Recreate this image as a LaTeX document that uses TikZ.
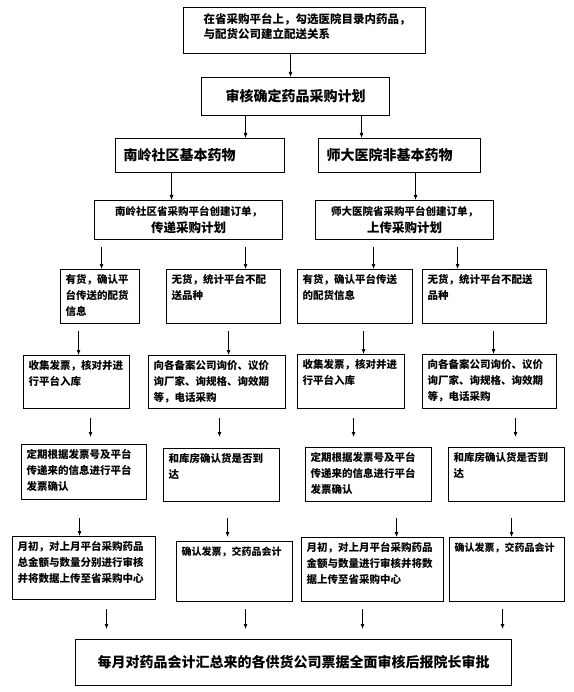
\documentclass[tikz,border=0pt]{standalone}
\usepackage{fontspec}
\setmainfont{Noto Sans CJK SC}
\usepackage{tikz}
\usetikzlibrary{arrows.meta}
\newcommand{\cbox}[3]{\parbox[t][\dimexpr#2pt-10pt\relax][t]{\dimexpr#1pt-10pt\relax}{#3}}

\begin{document}
\begin{tikzpicture}[x=1pt, y=-1pt,
		cell/.style={draw, line width=1.1pt, anchor=north west, inner sep=5pt, font=\fontsize{10.5}{16}\bfseries\selectfont},
		title/.style={draw, line width=1.1pt, anchor=north west, inner sep=0pt, align=center, font=\fontsize{14}{16}\bfseries\selectfont},
		order/.style={draw, line width=1.1pt, anchor=north west, inner sep=0pt, align=center, font=\fontsize{10.5}{17}\bfseries\selectfont},
		arr/.style={-{Latex[length=5pt,width=4pt]}, line width=0.8pt}
		]
		\useasboundingbox (0,0) rectangle (573,692);
		% top of the chart
		\node[draw, line width=1.1pt, anchor=north west, inner xsep=20pt, inner ysep=6pt, font=\fontsize{11.5}{15}\bfseries\selectfont] (top) at (183,7) {\parbox[t][34pt][t]{202pt}{在省采购平台上，勾选医院目录内药品，\\与配货公司建立配送关系}};
		\node[title, minimum width=188pt, minimum height=38pt] (plan) at (201,77) {审核确定药品采购计划};
		\node[title, align=left, inner xsep=8pt, text width=153pt, minimum height=34pt] (nl) at (115,138) {南岭社区基本药物};
		\node[title, align=left, inner xsep=8pt, text width=146pt, minimum height=34pt] (sd) at (318,138) {师大医院非基本药物};
		\node[order, minimum width=188pt, minimum height=39pt] (nlo) at (94,200) {南岭社区省采购平台创建订单，\\{\fontsize{12.5}{17}\selectfont 传递采购计划}};
		\node[order, minimum width=178pt, minimum height=39pt] (sdo) at (315,200) {师大医院省采购平台创建订单，\\{\fontsize{12.5}{17}\selectfont 上传采购计划}};
		% four columns
		\node[cell] (s1) at (60,269) {\cbox{79}{54}{有货，确认平\\台传送的配货\\信息}};
		\node[cell] (s2) at (166,269) {\cbox{114}{54}{无货，统计平台不配\\送品种}};
		\node[cell] (s3) at (297,269) {\cbox{115}{54}{有货，确认平台传送\\的配货信息}};
		\node[cell] (s4) at (422,269) {\cbox{124}{54}{无货，统计平台不配送\\品种}};
		\node[cell] (r1) at (23,355) {\cbox{106}{53}{收集发票，核对并进\\行平台入库}};
		\node[cell] (r2) at (148,355) {\cbox{137}{53}{向各备案公司询价、议价\\询厂家、询规格、询效期\\等，电话采购}};
		\node[cell] (r3) at (297,354) {\cbox{107}{54}{收集发票，核对并进\\行平台入库}};
		\node[cell] (r4) at (422,354) {\cbox{134}{54}{向各备案公司询价、议价\\询厂家、询规格、询效期\\等，电话采购}};
		\node[cell] (v1) at (21,444) {\cbox{125}{55}{定期根据发票号及平台\\传递来的信息进行平台\\发票确认}};
		\node[cell] (v2) at (163,448) {\cbox{116}{53}{和库房确认货是否到\\达}};
		\node[cell] (v3) at (305,447) {\cbox{126}{54}{定期根据发票号及平台\\传递来的信息进行平台\\发票确认}};
		\node[cell] (v4) at (448,447) {\cbox{116}{54}{和库房确认货是否到\\达}};
		\node[cell] (m1) at (12,536) {\cbox{143}{63}{月初，对上月平台采购药品\\总金额与数量分别进行审核\\并将数据上传至省采购中心}};
		\node[cell, font=\fontsize{10}{16}\bfseries\selectfont] (m2) at (176,541) {\cbox{116}{60}{确认发票，交药品会计}};
		\node[cell] (m3) at (301,537) {\cbox{142}{64}{月初，对上月平台采购药品\\金额与数量进行审核并将数\\据上传至省采购中心}};
		\node[cell, font=\fontsize{10}{16}\bfseries\selectfont] (m4) at (449,537) {\cbox{115}{64}{确认发票，交药品会计}};
		\node[title, minimum width=436pt, minimum height=46pt] (fin) at (75,639) {每月对药品会计汇总来的各供货公司票据全面审核后报院长审批};
		% arrows
		\draw[arr] ([xshift=-14pt]top.south) -- ([xshift=-5pt]plan.north);
		\draw[arr] ([xshift=-50pt]plan.south) -- ([xshift=45.5pt]nl.north);
		\draw[arr] ([xshift=66pt]plan.south) -- ([xshift=-38pt]sd.north);
		\draw[arr] ([xshift=-28.5pt]nl.south) -- ([xshift=-17pt]nlo.north);
		\draw[arr] ([xshift=16pt]sd.south) -- ([xshift=11pt]sdo.north);
		\draw[arr, shorten <=7pt] ([xshift=-87pt]nlo.south) -- ([xshift=1.5pt]s1.north);
		\draw[arr, shorten <=7pt] ([xshift=57pt]nlo.south) -- ([xshift=22pt]s2.north);
		\draw[arr, shorten <=7pt] ([xshift=-31pt]sdo.south) -- ([xshift=18.5pt]s3.north);
		\draw[arr, shorten <=7pt] ([xshift=53pt]sdo.south) -- ([xshift=-27pt]s4.north);
		\draw[arr, shorten <=7pt] ([xshift=-21.5pt]s1.south) -- ([xshift=2pt]r1.north);
		\draw[arr, shorten <=7pt] ([xshift=5pt]s2.south) -- ([xshift=11.5pt]r2.north);
		\draw[arr, shorten <=7pt] ([xshift=8.5pt]s3.south) -- ([xshift=12.5pt]r3.north);
		\draw[arr, shorten <=7pt] ([xshift=9pt]s4.south) -- ([xshift=4pt]r4.north);
		\draw[arr, shorten <=9pt, shorten >=7pt] ([xshift=14pt]r1.south) -- ([xshift=6.5pt]v1.north);
		\draw[arr, shorten <=9pt, shorten >=11pt] ([xshift=2.5pt]r2.south) -- ([xshift=-2pt]v2.north);
		\draw[arr, shorten <=9pt, shorten >=10pt] ([xshift=2.5pt]r3.south) -- ([xshift=-15pt]v3.north);
		\draw[arr, shorten <=9pt, shorten >=10pt] ([xshift=26pt]r4.south) -- ([xshift=9pt]v4.north);
		\draw[arr, shorten <=18pt] ([xshift=-4.5pt]v1.south) -- ([xshift=-4.5pt]m1.north);
		\draw[arr, shorten <=16pt, shorten >=4pt] ([xshift=6pt]v2.south) -- ([xshift=-7pt]m2.north);
		\draw[arr, shorten <=16pt] ([xshift=28pt]v3.south) -- ([xshift=24pt]m3.north);
		\draw[arr, shorten <=16pt] ([xshift=5pt]v4.south) -- ([xshift=4.5pt]m4.north);
		\draw[arr, shorten <=9pt, shorten >=10pt] ([xshift=22.5pt]m1.south) -- ([xshift=-187pt]fin.north);
		\draw[arr, shorten <=7pt, shorten >=10pt] ([xshift=11pt]m2.south) -- ([xshift=-48pt]fin.north);
		\draw[arr, shorten <=7pt, shorten >=10pt] ([xshift=-10pt]m3.south) -- ([xshift=69pt]fin.north);
		\draw[arr, shorten <=7pt, shorten >=10pt] ([xshift=-4.5pt]m4.south) -- ([xshift=209pt]fin.north);
\end{tikzpicture}
\end{document}
